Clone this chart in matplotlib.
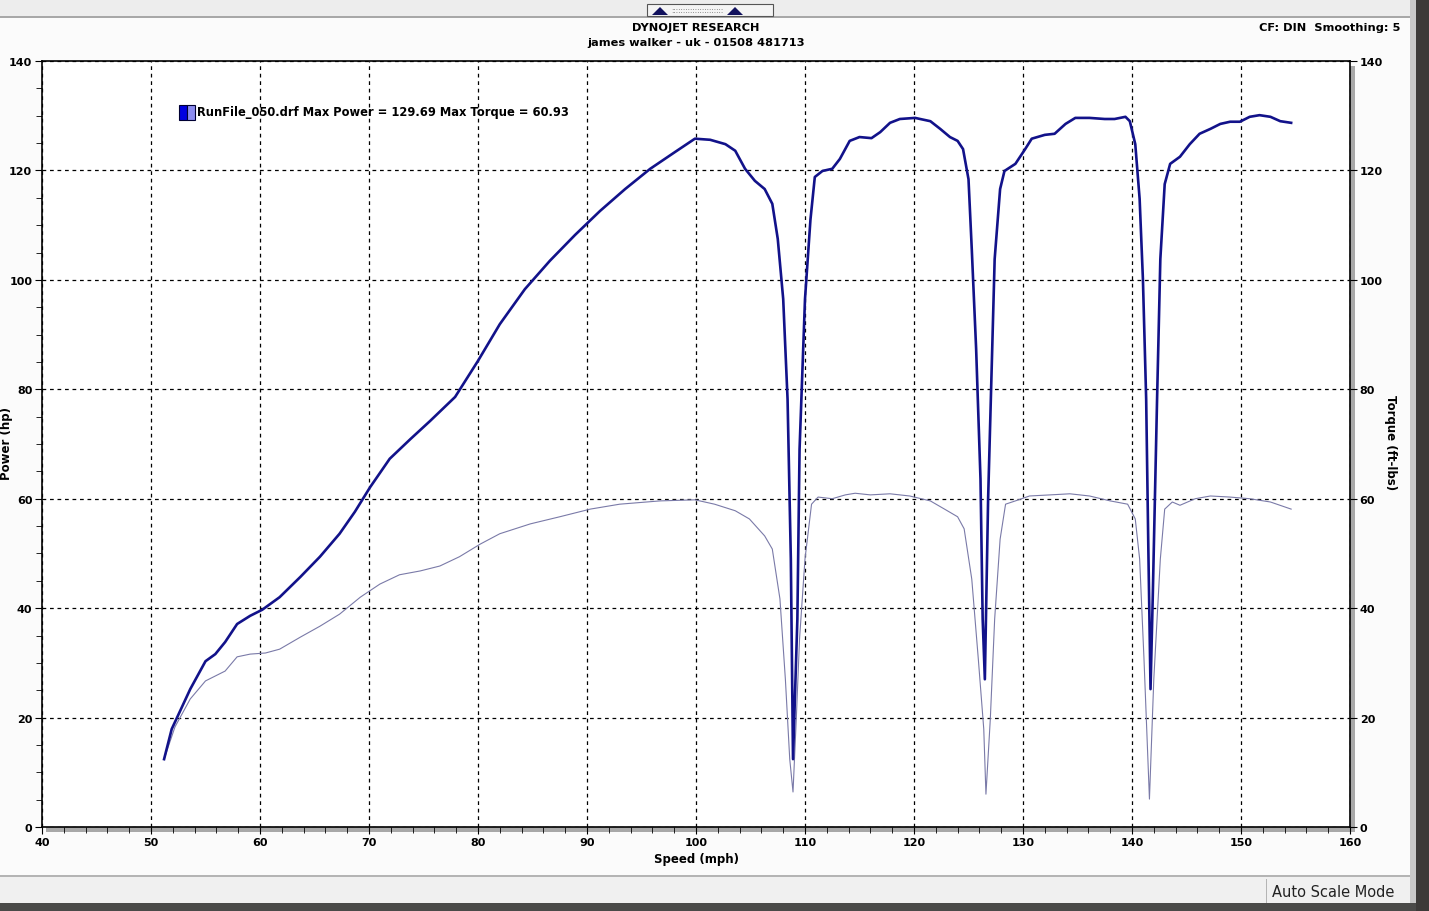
import matplotlib.pyplot as plt
from matplotlib.patches import Rectangle, Polygon
from matplotlib.ticker import MultipleLocator

# Dyno run values
speed_power = [51.2, 51.9, 53.6, 55.0, 55.9, 56.8, 57.9, 59.1, 60.2, 61.8, 63.7, 65.5, 67.3,
               68.7, 70.1, 71.9, 73.8, 75.6, 77.9, 80.0, 82.0, 84.3, 86.6, 88.9, 91.2, 93.5,
               95.8, 98.1, 99.9, 101.3, 102.7, 103.6, 104.5, 105.4, 106.3, 107.0, 107.5,
               108.0, 108.4, 108.7, 108.9, 109.3, 109.5, 110.0, 110.5, 110.9, 111.6, 112.5,
               113.2, 114.1, 115.0, 116.1, 116.9, 117.8, 118.7, 120.1, 121.5, 122.4, 123.3,
               124.0, 124.5, 125.0, 125.3, 125.7, 126.1, 126.3, 126.5, 126.8, 127.1, 127.4,
               127.9, 128.3, 129.3, 130.2, 130.8, 132.0, 132.9, 133.9, 134.8, 136.1, 137.5,
               138.4, 139.4, 139.8, 140.3, 140.7, 141.0, 141.3, 141.5, 141.7, 141.9, 142.3,
               142.6, 143.0, 143.5, 144.4, 145.3, 146.2, 147.2, 148.1, 149.0, 149.9, 150.8,
               151.7, 152.7, 153.6, 154.6]
power = [12.4, 17.9, 25.2, 30.3, 31.6, 33.8, 37.1, 38.6, 39.7, 42.0, 45.7, 49.4, 53.6,
         57.6, 62.1, 67.3, 70.9, 74.2, 78.6, 85.2, 91.9, 98.3, 103.5, 108.2, 112.6, 116.6,
         120.3, 123.4, 125.8, 125.6, 124.8, 123.6, 120.3, 118.1, 116.6, 113.9, 107.5,
         96.5, 78.2, 49.0, 12.4, 38.0, 69.0, 96.5, 111.0, 118.8, 119.9, 120.3,
         122.1, 125.4, 126.1, 125.9, 127.0, 128.7, 129.4, 129.6, 129.0, 127.6, 126.1,
         125.4, 123.9, 118.4, 105.6, 87.4, 63.6, 38.0, 27.0, 60.0, 81.9, 103.8,
         116.6, 119.9, 121.2, 123.9, 125.8, 126.5, 126.7, 128.5, 129.6, 129.6, 129.4,
         129.4, 129.8, 129.0, 124.8, 114.8, 100.2, 78.2, 50.8, 25.2, 41.7, 78.2,
         103.8, 117.5, 121.2, 122.5, 124.8, 126.7, 127.6, 128.5, 128.9, 128.9, 129.8,
         130.1, 129.8, 129.0, 128.7]

speed_torque = [51.2, 52.2, 53.6, 55.0, 55.9, 56.8, 57.9, 59.1, 60.5, 61.8, 63.7, 65.5, 67.3,
                69.2, 71.0, 72.8, 74.7, 76.5, 78.3, 80.2, 82.0, 84.8, 87.5, 90.3, 93.0, 96.7,
                99.9, 101.7, 103.6, 104.9, 106.3, 107.0, 107.7, 108.2, 108.6, 108.9, 109.2,
                109.5, 110.0, 110.6, 111.2, 112.5, 113.7, 114.6, 116.0, 117.8, 119.6, 121.5,
                122.8, 124.0, 124.6, 125.3, 125.9, 126.4, 126.6, 127.0, 127.4, 127.9, 128.4,
                129.3, 130.6, 132.5, 134.3, 136.1, 138.0, 139.6, 140.3, 140.7, 141.1, 141.6,
                142.0, 142.6, 143.0, 143.7, 144.4, 145.8, 147.2, 149.0, 150.8, 152.7, 154.6]
torque = [12.4, 18.3, 23.4, 26.7, 27.6, 28.5, 31.1, 31.6, 31.8, 32.5, 34.7, 36.7, 38.9,
          42.0, 44.4, 46.1, 46.8, 47.7, 49.4, 51.7, 53.6, 55.4, 56.7, 58.1, 59.0, 59.6,
          59.8, 59.0, 57.8, 56.3, 53.2, 50.8, 41.7, 27.0, 12.4, 6.4, 19.7,
          34.4, 49.0, 59.0, 60.3, 60.0, 60.7, 61.0, 60.7, 60.9, 60.5, 59.6,
          58.1, 56.7, 54.5, 45.3, 30.7, 17.9, 6.0, 19.7, 38.0, 52.6, 59.0,
          59.6, 60.5, 60.7, 60.9, 60.5, 59.6, 59.0, 56.3, 49.0, 30.7, 5.1,
          27.0, 49.0, 58.1, 59.4, 58.8, 60.0, 60.5, 60.3, 60.0, 59.4, 58.1]

legend_text = 'RunFile_050.drf Max Power = 129.69 Max Torque = 60.93'

POWER_COL = '#12128a'
TORQUE_COL = '#7a7aa8'

plt.rc('font', family='DejaVu Sans', weight='bold', size=8)

W, H = 1429, 912
fig = plt.figure(figsize=(W / 100, H / 100), dpi=100, facecolor='#fbfbfb')


def px_rect(x0, y0, x1, y1, **kw):
    # rectangle in screen pixels (top-left origin)
    fig.patches.append(Rectangle((x0 / W, 1 - y1 / H), (x1 - x0) / W, (y1 - y0) / H,
                                 transform=fig.transFigure, **kw))


# window chrome
px_rect(0, 0, W, 18, facecolor='#ededed', edgecolor='none')
px_rect(0, 17, W, 19, facecolor='#a8a8a8', edgecolor='none')
px_rect(647, 5, 773, 17, facecolor='#f4f4f4', edgecolor='#555555', lw=0.8)
fig.text(697 / W, 1 - 11 / H, ':' * 22, ha='center', va='center', fontsize=5,
         weight='normal', color='#666666')
for cx in (660, 735):
    fig.patches.append(Polygon([((cx - 8) / W, 1 - 16 / H), ((cx + 8) / W, 1 - 16 / H),
                                (cx / W, 1 - 8 / H)], closed=True, transform=fig.transFigure,
                               facecolor='#12125e', edgecolor='none'))
px_rect(0, 876, 1412, 878, facecolor='#b4b4b4', edgecolor='none')
px_rect(0, 878, 1412, 904, facecolor='#f0f0f0', edgecolor='none')
px_rect(1266, 880, 1267, 904, facecolor='#b4b4b4', edgecolor='none')
px_rect(0, 904, W, H, facecolor='#4a4a48', edgecolor='none')
px_rect(1410, 0, 1416, 904, facecolor='#c8c8c8', edgecolor='none')
px_rect(1416, 0, W, H, facecolor='#3c3a38', edgecolor='none')

fig.text(1333 / W, 1 - 893 / H, 'Auto Scale Mode', ha='center', va='center',
         fontsize=10.5, weight='normal', color='#222222')
fig.text(696 / W, 1 - 28 / H, 'DYNOJET RESEARCH', ha='center', va='center', fontsize=8.2)
fig.text(696 / W, 1 - 43 / H, 'james walker - uk - 01508 481713', ha='center', va='center',
         fontsize=8.2)
fig.text(1400 / W, 1 - 28 / H, 'CF: DIN  Smoothing: 5', ha='right', va='center', fontsize=8.2)

ax = fig.add_axes([42 / W, 1 - 828 / H, (1350 - 42) / W, (828 - 62) / H])
ax.set_facecolor('white')
ax.plot(speed_torque, torque, color=TORQUE_COL, lw=0.8)
ax.plot(speed_power, power, color=POWER_COL, lw=1.9)

ax.set_xlim(40, 160)
ax.set_ylim(0, 140)
ax.xaxis.set_major_locator(MultipleLocator(10))
ax.xaxis.set_minor_locator(MultipleLocator(2))
ax.yaxis.set_major_locator(MultipleLocator(20))
ax.yaxis.set_minor_locator(MultipleLocator(5))
ax.grid(True, which='major', color='black', linestyle=(0, (3, 3)), linewidth=0.9)
ax.tick_params(which='both', direction='out', colors='black', labelsize=8)
ax.tick_params(which='major', length=5, pad=2)
ax.tick_params(which='minor', length=4)
ax.tick_params(axis='y', which='major', right=True, labelright=True)
for sp in ax.spines.values():
    sp.set_linewidth(1.2)

# grey shadow under the bottom and right axis lines
ax.add_patch(Rectangle((0.003, -0.007), 1.0, 0.007, transform=ax.transAxes,
                       facecolor='#a8a8a8', edgecolor='none', clip_on=False))
ax.add_patch(Rectangle((1.0, -0.007), 0.004, 1.0, transform=ax.transAxes,
                       facecolor='#a8a8a8', edgecolor='none', clip_on=False))

ax.set_xlabel('Speed (mph)', fontsize=8.5, fontweight='bold', labelpad=4)
fig.text(7 / W, 1 - 443 / H, 'Power (hp)', rotation=90, ha='center', va='center',
         fontsize=8.5)
fig.text(1390 / W, 1 - 443 / H, 'Torque (ft-lbs)', rotation=-90, ha='center', va='center',
         fontsize=8.5)

# legend swatch and text
ax.add_patch(Rectangle((52.6, 129.3), 0.7, 2.7, facecolor='#0000e0', edgecolor='#000033',
                       lw=0.8, clip_on=False))
ax.add_patch(Rectangle((53.3, 129.3), 0.7, 2.7, facecolor='#8c8cf0', edgecolor='#000033',
                       lw=0.8, clip_on=False))
ax.text(54.2, 130.7, legend_text, ha='left', va='center', fontsize=8.3)

fig.savefig('out.png', dpi=100, facecolor=fig.get_facecolor())
